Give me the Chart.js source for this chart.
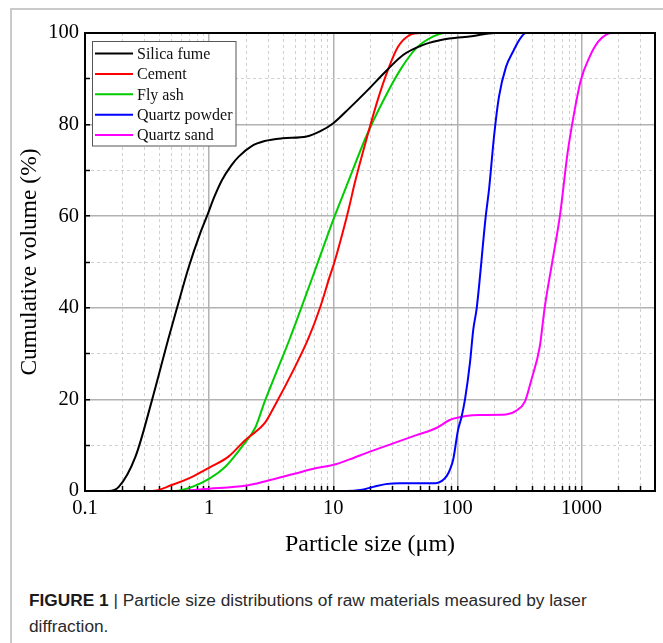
<!DOCTYPE html>
<html>
<head>
<meta charset="utf-8">
<script src="https://cdn.jsdelivr.net/npm/chart.js@4.4.0/dist/chart.umd.min.js"></script>
<style>
  body { margin: 0; background: #fff; width: 663px; height: 643px; overflow: hidden; position: relative; }
  #moldura { position: absolute; left: 10px; top: 8px; width: 700px; height: 700px; border: 2px solid #cacaca; box-sizing: border-box; }
  #area { position: absolute; left: 0; top: 0; width: 663px; height: 575px; }
  #legenda-fig { position: absolute; left: 29px; top: 587px; width: 625px; font-family: "Liberation Sans", Arial, sans-serif; font-size: 17.3px; line-height: 26px; color: #2a2a2a; }
  #legenda-fig b { font-weight: bold; color: #1a1a1a; }
</style>
</head>
<body>
<div id="moldura"></div>
<div id="area"><canvas id="grafico-psd" width="663" height="575"></canvas></div>
<div id="legenda-fig"><b>FIGURE 1</b> | Particle size distributions of raw materials measured by laser diffraction.</div>
<script>
// eixos
const sizeTicks = [0.1, 1, 10, 100, 1000];
const volTicks = [0, 20, 40, 60, 80, 100];
const sizeMin = 0.1;
const sizeMax = 3900;

// Silica fume
const silicaSize = [0.1, 0.155, 0.187, 0.255, 0.347, 0.47, 0.55, 0.683, 0.845, 0.96, 1.1, 1.27, 1.5, 1.73, 2.2, 2.8, 3.9, 6.1, 7.8, 10, 13.5, 18.4, 26.4, 36.5, 53, 72, 86, 130, 200, 3900];
const silicaVol = [0, 0, 0.9, 7.5, 19.9, 33.3, 39.9, 48.8, 56.2, 60, 64.2, 67.9, 71, 73, 75.3, 76.4, 77, 77.4, 78.5, 80.3, 83.6, 87.2, 91.6, 95.2, 97.4, 98.4, 98.8, 99.3, 100, 100];

// Cement
const cementSize = [0.1, 0.346, 0.5, 0.73, 1.02, 1.43, 1.95, 2.14, 2.8, 3.4, 4.77, 6.3, 7.79, 9.35, 10.25, 12, 13.5, 14.9, 18.4, 22.8, 27.5, 33.2, 41.5, 50, 3900];
const cementVol = [0, 0, 1.3, 3.1, 5.2, 7.5, 11.1, 12, 14.8, 18.8, 26.4, 33.3, 39.9, 46.8, 50.1, 56.8, 62.3, 67.3, 76.6, 85.4, 91.9, 97, 99.6, 100, 100];

// Fly ash
const flySize = [0.1, 0.53, 0.73, 1.02, 1.35, 1.84, 2.35, 2.8, 3.5, 4.47, 5.7, 7.3, 10.25, 12.7, 18.4, 25, 34.5, 46.6, 63.4, 79, 3900];
const flyVol = [0, 0, 0.9, 2.8, 5.3, 9.7, 13.8, 19.5, 26.1, 33.3, 41, 49, 60, 66.4, 77.4, 85, 91.9, 96.7, 99.2, 100, 100];

// Quartz powder
const powderSize = [0.1, 12.7, 16.5, 21, 26.4, 34.4, 67, 75, 82, 88, 92.6, 101, 107.5, 115, 126, 134, 143, 169, 180, 197, 216, 246, 280, 315, 356, 3900];
const powderVol = [0, 0, 0.2, 0.9, 1.5, 1.7, 1.7, 2.2, 3.3, 5, 7, 13.3, 16, 20, 27.9, 35.2, 40, 60, 66.1, 77.4, 86.1, 92.6, 95.9, 98.5, 100, 100];

// Quartz sand
const sandSize = [0.1, 0.5, 1, 2, 2.9, 4.77, 7.3, 10, 13.5, 19.7, 30.3, 46.6, 67, 86.5, 92.6, 117, 150, 246, 296, 349, 393, 460, 504, 580, 668, 770, 870, 985, 1160, 1360, 1590, 1750, 3900];
const sandVol = [0, 0, 0.5, 1.2, 2.2, 3.7, 5, 5.7, 6.9, 8.6, 10.4, 12.2, 13.7, 15.5, 15.8, 16.4, 16.6, 16.7, 17.5, 19.5, 24.2, 31.5, 40, 50, 60, 73.7, 82.5, 89.7, 94.8, 98.1, 99.7, 100, 100];

const canvasPsd = document.getElementById('grafico-psd');
const serif = '"Liberation Serif", "Times New Roman", serif';

function pontos(xs, ys) {
    return xs.map(function (x, i) { return { x: x, y: ys[i] }; });
}

function serie(label, xs, ys, cor) {
    return {
        label: label,
        data: pontos(xs, ys),
        borderColor: cor,
        backgroundColor: cor,
        borderWidth: 2,
        pointRadius: 0,
        cubicInterpolationMode: 'monotone',
        fill: false
    };
}

// posicoes das linhas de grade do eixo log (1..9 por decada)
var gradeX = [];
sizeTicks.forEach(function (d) {
    for (var m = 1; m <= 9; m++) {
        if (d * m <= sizeMax) gradeX.push({ value: d * m, major: m === 1 });
    }
});

const molduraPlugin = {
    id: 'moldura',
    afterDraw: function (chart) {
        const ctx = chart.ctx;
        const a = chart.chartArea;
        ctx.save();
        ctx.strokeStyle = '#000';
        ctx.lineWidth = 2;
        ctx.strokeRect(a.left, a.top, a.right - a.left, a.bottom - a.top);

        // legenda dentro do grafico
        const x0 = 92.5, y0 = 41.5, w = 143.5, h = 104.5;
        ctx.fillStyle = '#fff';
        ctx.fillRect(x0, y0, w, h);
        ctx.strokeStyle = '#555';
        ctx.lineWidth = 1;
        ctx.strokeRect(x0, y0, w, h);
        ctx.font = '16px ' + serif;
        ctx.textBaseline = 'middle';
        ctx.textAlign = 'left';
        chart.data.datasets.forEach(function (ds, i) {
            const y = 53.5 + i * 20.4;
            ctx.strokeStyle = ds.borderColor;
            ctx.lineWidth = 2;
            ctx.beginPath();
            ctx.moveTo(95, y);
            ctx.lineTo(133, y);
            ctx.stroke();
            ctx.fillStyle = '#111';
            ctx.fillText(ds.label, 137, y + 1);
        });
        ctx.restore();
    }
};

const graficoPsd = new Chart(canvasPsd, {
    type: 'line',
    data: {
        datasets: [
            serie('Silica fume', silicaSize, silicaVol, '#000000'),
            serie('Cement', cementSize, cementVol, '#ff0000'),
            serie('Fly ash', flySize, flyVol, '#00cc00'),
            serie('Quartz powder', powderSize, powderVol, '#0000ff'),
            serie('Quartz sand', sandSize, sandVol, '#ff00ff')
        ]
    },
    options: {
        responsive: false,
        animation: false,
        layout: { padding: { left: 0, top: 33, right: 8, bottom: 0 } },
        plugins: {
            legend: { display: false },
            tooltip: { enabled: false }
        },
        scales: {
            x: {
                type: 'logarithmic',
                min: sizeMin,
                max: sizeMax,
                afterBuildTicks: function (scale) {
                    scale.ticks = gradeX.map(function (t) { return { value: t.value, major: t.major }; });
                },
                afterFit: function (scale) { scale.height = 575 - 491; },
                ticks: {
                    autoSkip: false,
                    maxRotation: 0,
                    padding: 10,
                    color: '#000',
                    font: { family: serif, size: 20.5 },
                    callback: function (v) {
                        return sizeTicks.indexOf(v) >= 0 ? String(v) : '';
                    }
                },
                grid: {
                    color: function (c) { return c.tick && c.tick.major ? '#b2b2b2' : '#d0d0d0'; },
                    lineWidth: function (c) { return c.tick && c.tick.major ? 1.5 : 1; },
                    tickColor: '#000',
                    tickLength: -5,
                    tickWidth: 1.5
                },
                border: {
                    display: false,
                    dash: function (c) { return c.tick && c.tick.major ? [] : [3, 3]; }
                },
                title: {
                    display: true,
                    text: 'Particle size (μm)',
                    color: '#000',
                    font: { family: serif, size: 24 },
                    padding: { top: 0, bottom: 15.5 }
                }
            },
            y: {
                min: 0,
                max: 100,
                afterFit: function (scale) { scale.width = 85; },
                ticks: {
                    stepSize: 10,
                    padding: 11,
                    color: '#000',
                    font: { family: serif, size: 20.5 },
                    callback: function (v) {
                        return volTicks.indexOf(v) >= 0 ? String(v) : '';
                    }
                },
                grid: {
                    color: function (c) { return c.tick && c.tick.value % 20 === 0 ? '#b2b2b2' : '#d0d0d0'; },
                    lineWidth: function (c) { return c.tick && c.tick.value % 20 === 0 ? 1.5 : 1; },
                    tickColor: '#000',
                    tickLength: -5,
                    tickWidth: 1.5
                },
                border: {
                    display: false,
                    dash: function (c) { return c.tick && c.tick.value % 20 === 0 ? [] : [3, 3]; }
                },
                title: {
                    display: true,
                    text: 'Cumulative volume (%)',
                    color: '#000',
                    font: { family: serif, size: 23.5 },
                    padding: { top: 15.5, bottom: 0 }
                }
            }
        }
    },
    plugins: [molduraPlugin]
});
</script>
</body>
</html>
